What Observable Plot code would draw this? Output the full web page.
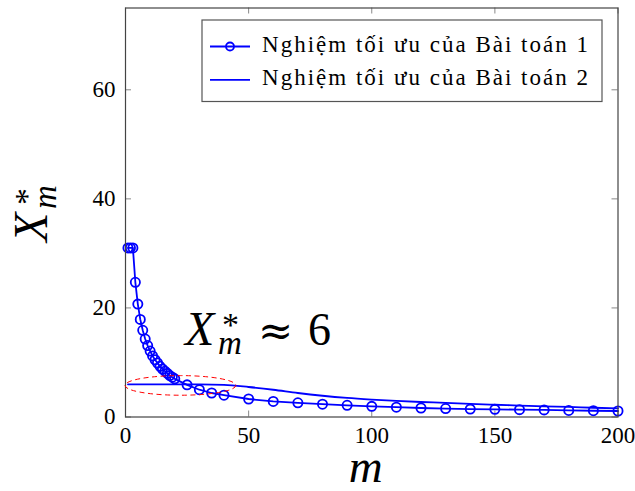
<!DOCTYPE html>
<html>
<head>
<meta charset="utf-8">
<script src="https://cdn.jsdelivr.net/npm/d3@7"></script>
<script src="https://cdn.jsdelivr.net/npm/@observablehq/plot@0.6"></script>
<style>
  body { margin: 0; background: #fff; }
  svg { display: block; }
</style>
</head>
<body>
<div id="chart"></div>
<script>
// Optimal solution X*_m versus m for the two problems
const m1 = [1, 2, 3, 4, 5, 6, 7, 8, 9, 10, 11, 12, 13, 14, 15, 16, 17, 18, 19, 20,
            25, 30, 35, 40, 50, 60, 70, 80, 90, 100, 110, 120, 130, 140, 150, 160, 170, 180, 190, 200];
const x1 = [31.0, 31.0, 31.0, 24.7, 20.7, 17.9, 15.9, 14.3, 13.1, 12.1, 11.2, 10.5, 9.9, 9.3, 8.8, 8.4, 8.0, 7.6, 7.3, 7.0,
            5.9, 5.0, 4.4, 4.0, 3.3, 2.85, 2.6, 2.35, 2.15, 1.95, 1.8, 1.65, 1.55, 1.45, 1.4, 1.35, 1.3, 1.2, 1.15, 1.1];

const m2 = [1, 10, 20, 30, 40, 50, 60, 70, 80, 90, 100, 110, 120, 130, 140, 150, 160, 170, 180, 190, 200];
const x2 = [6.0, 6.0, 6.0, 6.0, 5.9, 5.5, 5.0, 4.4, 3.9, 3.5, 3.2, 2.95, 2.75, 2.6, 2.4, 2.25, 2.1, 1.95, 1.85, 1.7, 1.6];

const xTicks = [0, 50, 100, 150, 200];
const yTicks = [0, 20, 40, 60];
const legendLabels = ["Nghiệm tối ưu của Bài toán 1", "Nghiệm tối ưu của Bài toán 2"];

// highlighted region around the plateau of problem 2, and its note
const plateau = {m: 22.5, v: 5.7, rm: 22.5, rv: 1.8};
const note = {m: 24.4, v: 13.1, value: "6"};

const series1 = m1.map((m, i) => ({m, v: x1[i]}));
const series2 = m2.map((m, i) => ({m, v: x2[i]}));

const serif = "'Liberation Serif', 'DejaVu Serif', serif";
const blue = "#0000ff";
const W = 635, H = 491;
const mL = 125, mR = 17.5, mT = 7.5, mB = 74.5;
const plotW = W - mL - mR, plotH = H - mT - mB;
const tickLen = 6;

const chart = Plot.plot({
  width: W,
  height: H,
  marginLeft: mL,
  marginRight: mR,
  marginTop: mT,
  marginBottom: mB,
  style: {fontFamily: serif, background: "#fff", color: "#000"},
  x: {domain: [0, 200]},
  y: {domain: [0, 75]},
  marks: [
    // inward ticks on all four sides
    Plot.tickX(xTicks, {x: d => d, insetTop: plotH - tickLen, stroke: "#888"}),
    Plot.tickX(xTicks, {x: d => d, insetBottom: plotH - tickLen, stroke: "#888"}),
    Plot.tickY(yTicks, {y: d => d, insetRight: plotW - tickLen, stroke: "#888"}),
    Plot.tickY(yTicks, {y: d => d, insetLeft: plotW - tickLen, stroke: "#888"}),
    Plot.line(series2, {x: "m", y: "v", stroke: blue, strokeWidth: 1.8, curve: "monotone-x"}),
    Plot.line(series1, {x: "m", y: "v", stroke: blue, strokeWidth: 1.8}),
    Plot.dot(series1, {x: "m", y: "v", r: 4.6, stroke: blue, strokeWidth: 1.8, fill: "none"}),
    // tick labels
    Plot.axisX({ticks: xTicks, anchor: "bottom", tickSize: 0, tickPadding: 10, fontSize: 23, label: null}),
    Plot.axisY({ticks: yTicks, anchor: "left", tickSize: 0, tickPadding: 10, fontSize: 23, label: null}),
    Plot.text(["m"], {frameAnchor: "bottom", lineAnchor: "bottom", dy: 65, dx: -6, fontSize: 47, fontStyle: "italic"}),
    Plot.frame({stroke: "#444", strokeWidth: 1.2})
  ]
});

const sx = chart.scale("x"), sy = chart.scale("y");
const X = v => sx.apply(v), Y = v => sy.apply(v);
const svg = d3.select(chart);

// dashed ellipse around the plateau
svg.append("ellipse")
  .attr("cx", X(plateau.m))
  .attr("cy", Y(plateau.v))
  .attr("rx", X(plateau.m + plateau.rm) - X(plateau.m))
  .attr("ry", Y(plateau.v) - Y(plateau.v + plateau.rv))
  .attr("fill", "none")
  .attr("stroke", "#ff0000")
  .attr("stroke-width", 1)
  .attr("stroke-dasharray", "5,3.5");

// X*_m as one text element: italic X, superscript star, subscript m
function mathSymbol(g) {
  const t = g.append("text").attr("x", 0).attr("y", 0);
  t.append("tspan").attr("font-size", 48).attr("font-style", "italic").text("X");
  t.append("tspan").attr("x", 37).attr("y", -9).attr("font-size", 34).text("*");
  t.append("tspan").attr("x", 33).attr("y", 9).attr("font-size", 33).attr("font-style", "italic").text("m");
}

const noteG = svg.append("g")
  .attr("font-family", serif)
  .attr("text-anchor", "start")
  .attr("transform", `translate(${X(note.m)},${Y(note.v)})`);
mathSymbol(noteG);
noteG.append("text").attr("x", 73).attr("y", 0).attr("font-size", 42)
  .attr("font-family", "'DejaVu Serif', serif").text("≈");
noteG.append("text").attr("x", 123).attr("y", 0).attr("font-size", 46).text(note.value);

// y-axis label
const yLab = svg.append("g")
  .attr("font-family", serif)
  .attr("text-anchor", "start")
  .attr("transform", `translate(${X(0) - 78},${(Y(0) + Y(75)) / 2 + 30}) rotate(-90)`);
mathSymbol(yLab);

// legend box in the upper-right corner of the frame
const fx1 = X(200), fy0 = Y(75);
const lg = svg.append("g").attr("font-family", serif).attr("text-anchor", "start");
const lx = fx1 - 15.5 - 400, ly = fy0 + 12.5;
lg.append("rect").attr("x", lx).attr("y", ly).attr("width", 400).attr("height", 81.5)
  .attr("fill", "#fff").attr("stroke", "#555").attr("stroke-width", 1.2);
legendLabels.forEach((label, i) => {
  const cy = ly + 26.5 + i * 33.3;
  lg.append("line").attr("x1", lx + 8).attr("x2", lx + 48).attr("y1", cy).attr("y2", cy)
    .attr("stroke", blue).attr("stroke-width", 1.8);
  if (i === 0) {
    lg.append("circle").attr("cx", lx + 28).attr("cy", cy).attr("r", 4)
      .attr("fill", "none").attr("stroke", blue).attr("stroke-width", 1.8);
  }
  lg.append("text").attr("x", lx + 60).attr("y", cy + 5).attr("font-size", 23)
    .attr("textLength", 326).attr("lengthAdjust", "spacing").text(label);
});

document.getElementById("chart").append(chart);
</script>
</body>
</html>
